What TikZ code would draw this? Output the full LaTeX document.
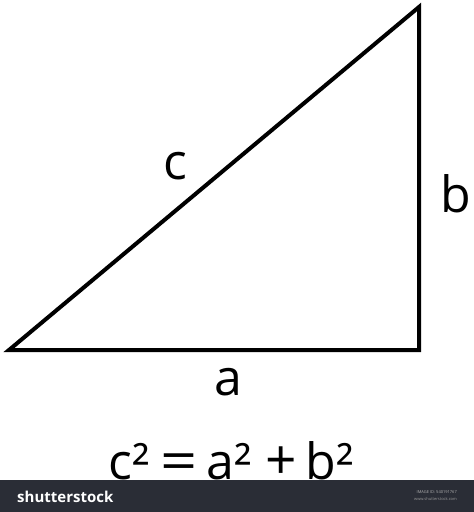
\documentclass[tikz,border=0pt]{standalone}
\usepackage{fontspec}
\usepackage{graphicx}
\setmainfont{Open Sans}
\newcommand{\wideeq}{\raisebox{-1pt}{\scalebox{1.3}[1.1]{=}}}
\newcommand{\wideplus}{\scalebox{1.1}{+}}
\begin{document}
\begin{tikzpicture}[x=1pt,y=-1pt,
  side/.style={line width=4pt,line join=miter},
  lbl/.style={font=\fontsize{50}{56}\selectfont,inner sep=0pt,anchor=base}]
\useasboundingbox (0,0) rectangle (474,512);
\fill[white] (0,0) rectangle (474,512);
\coordinate (A) at (9,350);
\coordinate (B) at (419,350);
\coordinate (C) at (419,7);
\draw[side] (A) -- (B) -- (C) -- cycle;
\node[lbl] (lc) at (175,179) {c};
\node[lbl] (lb) at (456,212) {b};
\node[lbl] (la) at (228,395) {a};
\node[lbl] (f) at (231,479) {c²\hspace{11pt}\wideeq\hspace{9pt}a²\hspace{13pt}\wideplus\hspace{9pt}b²};
\fill[fill={rgb,255:red,42;green,45;blue,54}] (0,480) rectangle (474,512);
\node[font=\fontsize{15}{17}\selectfont\bfseries,text=white,anchor=base west,inner sep=0pt] (logo) at (17,502) {shutterstock};
\node[font=\fontsize{4}{5}\selectfont,text=white!70!black,anchor=base east,inner sep=0pt] (id) at (457,493) {IMAGE ID: 540191767};
\node[font=\fontsize{4}{5}\selectfont,text=white!60!black,anchor=base east,inner sep=0pt] (url) at (457,500) {www.shutterstock.com};
\end{tikzpicture}
\end{document}
